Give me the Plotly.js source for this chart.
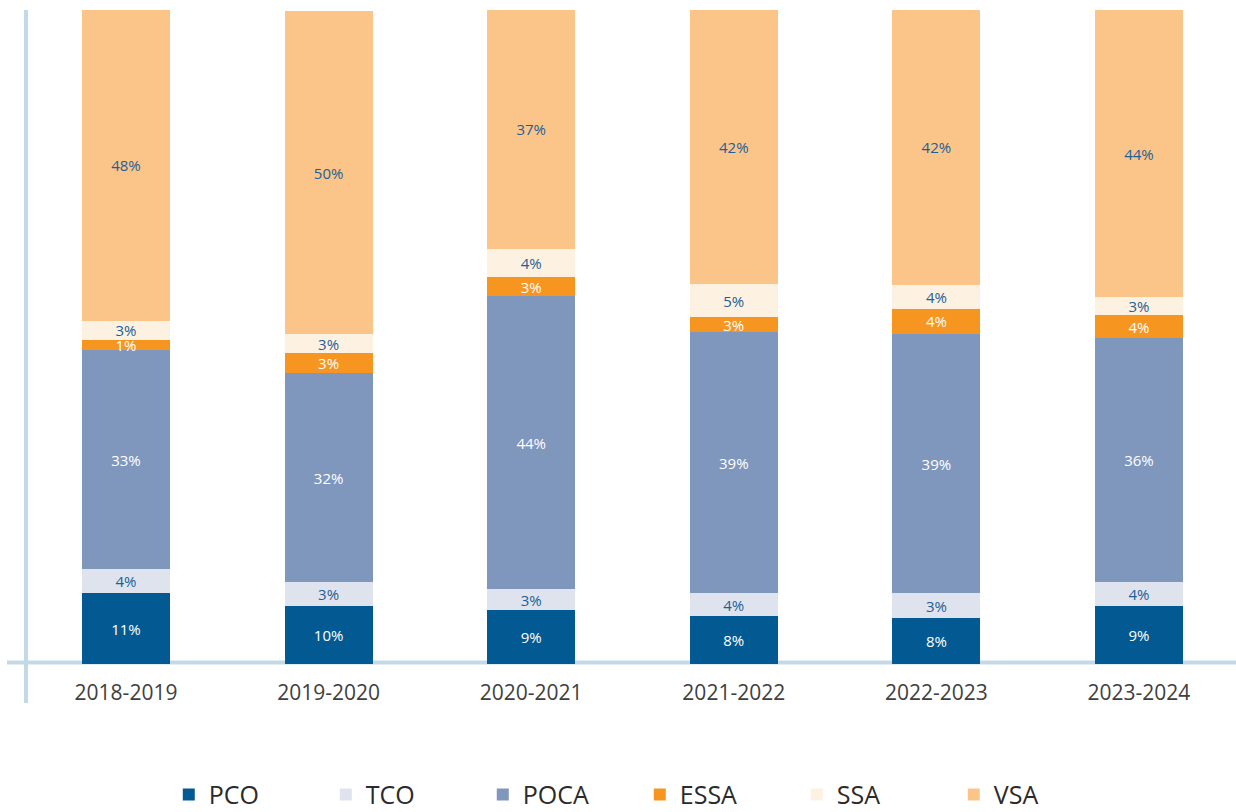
<!DOCTYPE html>
<html>
<head>
<meta charset="utf-8">
<script src="https://cdn.plot.ly/plotly-3.0.1.min.js"></script>
<style>
html,body{margin:0;padding:0;background:#fff;}
#chart{width:1236px;height:812px;}
</style>
</head>
<body>
<div id="chart"></div>
<script>
// Categories
const years = ['2018-2019','2019-2020','2020-2021','2021-2022','2022-2023','2023-2024'];

// Segment heights (share of total, %)
const pco  = [10.8, 8.8, 8.3, 7.3, 7.0, 8.8];
const tco  = [3.7, 3.7, 3.1, 3.5, 3.8, 3.8];
const poca = [33.5, 32.0, 44.8, 40.0, 39.7, 37.2];
const essa = [1.6, 3.0, 3.0, 2.2, 3.8, 3.5];
const ssa  = [2.9, 2.9, 4.3, 5.1, 3.7, 2.8];
const vsa  = [47.5, 49.5, 36.5, 41.9, 42.0, 43.9];

// Printed labels (%)
const pcoLabels  = [11, 10, 9, 8, 8, 9];
const tcoLabels  = [4, 3, 3, 4, 3, 4];
const pocaLabels = [33, 32, 44, 39, 39, 36];
const essaLabels = [1, 3, 3, 3, 4, 4];
const ssaLabels  = [3, 3, 4, 5, 4, 3];
const vsaLabels  = [48, 50, 37, 42, 42, 44];

const seriesNames = ['PCO','TCO','POCA','ESSA','SSA','VSA'];
const seriesValues = [pco, tco, poca, essa, ssa, vsa];
const seriesLabels = [pcoLabels, tcoLabels, pocaLabels, essaLabels, ssaLabels, vsaLabels];
const seriesColors = ['#035a92','#dfe3ee','#7f96bd','#f79521','#fdf1e1','#fbc589'];
const labelColors  = ['#ffffff','#1d5f97','#ffffff','#ffffff','#1d5f97','#1d5f97'];

const FONT = '"Open Sans", "Noto Sans", sans-serif';

const traces = seriesNames.map((name, i) => ({
  type: 'bar',
  name: name,
  x: years,
  y: seriesValues[i],
  text: seriesLabels[i],
  texttemplate: '%{text}%',
  textposition: 'inside',
  insidetextanchor: 'middle',
  textangle: 0,
  constraintext: 'none',
  textfont: {family: FONT, size: 15, color: labelColors[i]},
  marker: {color: seriesColors[i], line: {width: 0}},
  hoverinfo: 'x+name+y'
}));

const layout = {
  width: 1236,
  height: 812,
  margin: {l: 26, r: 0, t: 10, b: 148, pad: 0, autoexpand: false},
  paper_bgcolor: '#ffffff',
  plot_bgcolor: '#ffffff',
  barmode: 'stack',
  bargap: 0.566,
  showlegend: true,
  uniformtext: {mode: 'show', minsize: 15},
  font: {family: FONT},
  xaxis: {
    type: 'category',
    range: [-0.4936, 5.479],
    showgrid: false,
    zeroline: false,
    showline: false,
    ticks: '',
    ticklabelstandoff: 14,
    tickfont: {family: FONT, size: 21, color: '#404040'},
    automargin: false,
    fixedrange: true
  },
  yaxis: {
    range: [0, 100],
    visible: false,
    showgrid: false,
    zeroline: false,
    automargin: false,
    fixedrange: true
  },
  legend: {
    orientation: 'h',
    x: 0.118,
    xanchor: 'left',
    y: -0.2,
    yanchor: 'middle',
    font: {family: FONT, size: 25, color: '#2b2b2b'},
    itemgap: 5,
    entrywidth: 112,
    traceorder: 'normal',
    bgcolor: 'rgba(0,0,0,0)'
  },
  shapes: [
    {
      type: 'line', layer: 'below',
      xref: 'paper', yref: 'paper',
      x0: 0, x1: 0, y0: -0.0596, y1: 1,
      line: {color: '#c3d9e7', width: 4}
    },
    {
      type: 'line', layer: 'below',
      xref: 'paper', yref: 'paper',
      x0: -0.0157, x1: 1, y0: 0.0023, y1: 0.0023,
      line: {color: '#c3d9e7', width: 4}
    }
  ]
};

Plotly.newPlot('chart', traces, layout, {displayModeBar: false, staticPlot: true});
</script>
</body>
</html>
